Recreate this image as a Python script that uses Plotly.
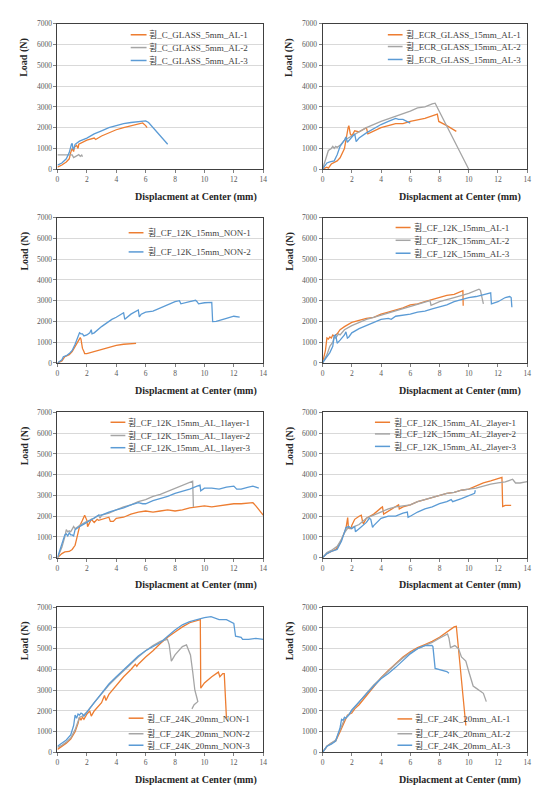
import plotly.graph_objects as go
from plotly.subplots import make_subplots

# ---------------- data ----------------
# Panel 1: C_GLASS 5mm AL
cg_names = ["휨_C_GLASS_5mm_AL-1", "휨_C_GLASS_5mm_AL-2", "휨_C_GLASS_5mm_AL-3"]
cg1_x = [0, 0.3, 0.6, 0.8, 0.9, 1.0, 1.1, 1.15, 1.3, 1.4, 1.45, 1.7, 2.0, 2.5, 2.6, 3.0, 3.5, 4.0, 4.5, 5.0, 5.5, 5.8, 6.0, 6.1]
cg1_y = [100, 200, 350, 500, 800, 1000, 850, 1050, 1150, 1000, 1200, 1300, 1400, 1500, 1430, 1600, 1750, 1900, 2000, 2100, 2200, 2230, 2100, 2000]
cg2_x = [0, 1.0, 1.1, 1.2, 1.35, 1.45, 1.55, 1.65, 1.7]
cg2_y = [690, 690, 560, 600, 650, 700, 620, 680, 600]
cg3_x = [0, 0.3, 0.6, 0.8, 0.95, 1.0, 1.05, 1.1, 1.2, 1.5, 2.0, 2.5, 3.0, 3.5, 4.0, 4.5, 5.0, 5.5, 6.0, 6.2, 7.5]
cg3_y = [200, 300, 500, 800, 1200, 1250, 1000, 950, 1200, 1350, 1500, 1700, 1850, 2000, 2100, 2200, 2250, 2300, 2330, 2250, 1200]

# Panel 2: ECR_GLASS 15mm AL
ecr_names = ["휨_ECR_GLASS_15mm_AL-1", "휨_ECR_GLASS_15mm_AL-2", "휨_ECR_GLASS_15mm_AL-3"]
ecr1_x = [0, 0.3, 0.4, 0.6, 1.0, 1.2, 1.5, 1.6, 1.75, 1.8, 1.9, 2.0, 2.2, 2.5, 3.0, 3.1, 3.5, 4.0, 4.5, 5.0, 5.5, 6.0, 7.0, 7.85, 7.95, 8.5, 9.15]
ecr1_y = [0, 100, 50, 250, 400, 550, 1000, 1500, 2000, 2100, 1700, 1600, 1850, 1800, 2000, 1700, 1850, 2000, 2100, 2200, 2200, 2300, 2450, 2650, 2300, 2100, 1820]
ecr2_x = [0, 0.2, 0.4, 0.6, 0.7, 0.8, 0.9, 1.0, 1.2, 1.5, 2.0, 2.5, 3.0, 4.0, 5.0, 5.5, 6.0, 6.5, 7.0, 7.5, 7.7, 10.0]
ecr2_y = [0, 400, 900, 1000, 1100, 1000, 1100, 1050, 1150, 1400, 1600, 1800, 2000, 2300, 2550, 2650, 2800, 2950, 3000, 3150, 3180, 0]
ecr3_x = [0, 0.3, 0.5, 0.8, 1.0, 1.2, 1.5, 1.6, 1.7, 1.9, 2.0, 2.2, 2.3, 2.5, 3.0, 3.5, 4.0, 4.5, 5.0, 5.2, 5.5, 6.0]
ecr3_y = [0, 300, 350, 400, 700, 1100, 1400, 1550, 1300, 1450, 1550, 1700, 1330, 1500, 1750, 1950, 2150, 2300, 2450, 2400, 2400, 2220]

# Panel 3: CF_12K 15mm NON
n12_names = ["휨_CF_12K_15mm_NON-1", "휨_CF_12K_15mm_NON-2"]
n12a_x = [0, 0.3, 0.5, 0.8, 1.0, 1.2, 1.4, 1.55, 1.6, 1.65, 1.7, 1.8, 1.85, 2.0, 2.5, 3.0, 3.5, 4.0, 4.5, 5.0, 5.35]
n12a_y = [0, 100, 300, 400, 550, 800, 1000, 1220, 1150, 800, 700, 550, 450, 450, 550, 650, 750, 850, 900, 930, 940]
n12b_x = [0, 0.3, 0.4, 0.6, 0.8, 1.0, 1.2, 1.4, 1.5, 1.6, 1.7, 1.8, 2.0, 2.2, 2.3, 2.35, 2.5, 3.0, 3.5, 3.7, 4.0, 4.5, 4.58, 5.0, 5.5, 5.57, 5.7, 6.0, 6.5, 7.0, 7.5, 8.0, 8.3, 8.4, 9.0, 9.4, 9.5, 9.6, 10.0, 10.5, 10.56, 10.8, 11.5, 12.0, 12.4]
n12b_y = [0, 150, 300, 350, 450, 600, 900, 1250, 1450, 1400, 1400, 1300, 1350, 1450, 1600, 1400, 1450, 1750, 2000, 2100, 2200, 2420, 2100, 2350, 2550, 2220, 2350, 2450, 2500, 2650, 2800, 2950, 3000, 2850, 2950, 3020, 2950, 2850, 2900, 2920, 1990, 2000, 2150, 2250, 2210]

# Panel 4: CF_12K 15mm AL
a12_names = ["휨_CF_12K_15mm_AL-1", "휨_CF_12K_15mm_AL-2", "휨_CF_12K_15mm_AL-3"]
a12a_x = [0, 0.2, 0.3, 0.4, 0.5, 0.6, 0.7, 0.8, 1.0, 1.2, 1.5, 2.0, 2.5, 3.0, 3.5, 4.0, 4.5, 5.0, 5.5, 6.0, 6.5, 7.0, 7.5, 8.0, 8.5, 9.0, 9.5, 9.6, 9.62]
a12a_y = [0, 600, 1200, 1150, 1250, 1200, 1350, 1300, 1400, 1600, 1750, 1950, 2050, 2150, 2200, 2350, 2450, 2550, 2650, 2800, 2850, 2950, 3050, 3150, 3250, 3300, 3450, 3480, 2750]
a12b_x = [0, 0.3, 0.5, 0.7, 0.8, 0.9, 1.0, 1.1, 1.2, 1.5, 2.0, 2.5, 3.0, 3.5, 4.0, 5.0, 6.0, 7.0, 7.35, 7.42, 8.0, 9.0, 10.0, 10.7, 10.8, 11.0]
a12b_y = [0, 400, 800, 1000, 1250, 1200, 1300, 1400, 1350, 1600, 1800, 1950, 2100, 2200, 2300, 2500, 2700, 2900, 3000, 2780, 2950, 3150, 3350, 3550, 3500, 2850]
a12c_x = [0, 0.3, 0.5, 0.7, 0.8, 0.9, 1.0, 1.2, 1.5, 1.6, 1.7, 1.8, 2.0, 2.5, 3.0, 3.5, 4.0, 4.5, 4.7, 5.0, 5.5, 6.0, 6.5, 7.0, 7.5, 8.0, 8.5, 9.0, 9.5, 10.0, 10.5, 11.0, 11.5, 11.55, 12.0, 12.5, 12.8, 12.9, 12.95]
a12c_y = [0, 300, 500, 800, 1300, 1350, 950, 1100, 1350, 1500, 1200, 1250, 1450, 1650, 1800, 1950, 2100, 2150, 2100, 2250, 2300, 2350, 2450, 2500, 2600, 2700, 2800, 2950, 3050, 3150, 3200, 3300, 3380, 2850, 2950, 3150, 3200, 3150, 2680]

# Panel 5: CF_12K 15mm AL 1layer
l1_names = ["휨_CF_12K_15mm_AL_1layer-1", "휨_CF_12K_15mm_AL_1layer-2", "휨_CF_12K_15mm_AL_1layer-3"]
l1a_x = [0, 0.3, 0.5, 0.8, 1.0, 1.2, 1.3, 1.4, 1.5, 1.7, 1.8, 1.85, 2.0, 2.05, 2.2, 2.3, 2.5, 2.7, 2.8, 3.0, 3.3, 3.5, 3.6, 3.8, 4.0, 4.5, 5.0, 5.5, 6.0, 6.5, 7.0, 7.5, 8.0, 8.5, 9.0, 9.5, 10.0, 10.5, 11.0, 11.5, 12.0, 12.5, 13.0, 13.3, 13.5, 13.8, 14.0]
l1a_y = [0, 200, 280, 300, 400, 600, 900, 1200, 1500, 1800, 2000, 2050, 1800, 1500, 1700, 1850, 1700, 1850, 1800, 1850, 1900, 1950, 1750, 1750, 1900, 1950, 2100, 2200, 2250, 2200, 2250, 2300, 2250, 2300, 2400, 2450, 2500, 2450, 2500, 2550, 2600, 2600, 2650, 2650, 2500, 2250, 2050]
l1b_x = [0, 0.3, 0.5, 0.6, 0.7, 0.8, 0.9, 1.0, 1.1, 1.2, 1.5, 2.0, 2.5, 2.8, 2.9, 3.0, 3.5, 4.0, 4.5, 5.0, 5.5, 6.0, 6.5, 7.0, 7.5, 8.0, 8.5, 9.0, 9.2, 9.25]
l1b_y = [0, 500, 1000, 1350, 1250, 1300, 1250, 1350, 1500, 1400, 1550, 1750, 1900, 2050, 1900, 2050, 2150, 2300, 2450, 2550, 2700, 2800, 2950, 3050, 3200, 3350, 3500, 3650, 3690, 2450]
l1c_x = [0, 0.3, 0.5, 0.6, 0.7, 0.8, 0.9, 1.0, 1.1, 1.2, 1.5, 2.0, 2.5, 2.8, 3.0, 3.5, 4.0, 4.5, 5.0, 5.5, 5.8, 6.0, 6.5, 7.0, 7.5, 8.0, 8.5, 9.0, 9.5, 9.7, 9.75, 10.0, 10.5, 11.0, 11.5, 12.0, 12.2, 12.5, 13.0, 13.3, 13.5, 13.7]
l1c_y = [0, 600, 1100, 1150, 1050, 1200, 1100, 1100, 1050, 1350, 1500, 1700, 1900, 2050, 2050, 2200, 2300, 2400, 2550, 2650, 2600, 2600, 2750, 2850, 2950, 3100, 3200, 3300, 3450, 3500, 3220, 3350, 3350, 3300, 3400, 3450, 3300, 3300, 3400, 3450, 3400, 3350]

# Panel 6: CF_12K 15mm AL 2layer
l2_names = ["휨_CF_12K_15mm_AL_2layer-1", "휨_CF_12K_15mm_AL_2layer-2", "휨_CF_12K_15mm_AL_2layer-3"]
l2a_x = [0, 0.3, 0.6, 0.9, 1.2, 1.5, 1.6, 1.72, 1.77, 1.85, 1.95, 2.0, 2.2, 2.5, 2.65, 2.75, 2.8, 3.0, 3.5, 4.0, 4.1, 4.18, 4.5, 5.0, 5.2, 5.25, 5.5, 6.0, 6.5, 7.0, 7.5, 8.0, 8.5, 9.0, 9.5, 10.0, 10.5, 11.0, 11.5, 12.0, 12.27, 12.32, 12.5, 12.9]
l2a_y = [0, 200, 300, 400, 700, 1200, 1400, 1930, 1450, 1400, 1400, 1550, 1850, 2000, 2050, 1700, 1650, 1900, 2100, 2400, 2450, 2100, 2250, 2450, 2550, 2350, 2450, 2550, 2700, 2800, 2900, 3000, 3100, 3150, 3250, 3300, 3450, 3600, 3700, 3800, 3870, 2470, 2520, 2520]
l2b_x = [0, 0.3, 0.6, 1.0, 1.3, 1.5, 1.7, 2.0, 2.5, 3.0, 3.5, 4.0, 4.5, 5.0, 5.5, 6.0, 6.5, 7.0, 7.5, 8.0, 8.5, 9.0, 9.5, 10.0, 10.5, 11.0, 11.5, 12.0, 12.5, 13.0, 13.2, 13.5, 14.0]
l2b_y = [0, 250, 350, 550, 900, 1200, 1400, 1450, 1600, 1900, 2050, 2200, 2350, 2450, 2500, 2550, 2700, 2800, 2900, 3000, 3100, 3150, 3250, 3300, 3350, 3450, 3550, 3600, 3650, 3780, 3600, 3600, 3670]
l2c_x = [0, 0.3, 0.6, 1.0, 1.3, 1.5, 1.6, 1.8, 2.0, 2.2, 2.25, 2.5, 3.0, 3.2, 3.3, 3.42, 3.5, 4.0, 4.5, 5.0, 5.5, 5.8, 5.85, 6.0, 6.5, 7.0, 7.5, 8.0, 8.5, 8.8, 8.9, 9.5, 10.0, 10.4, 10.45]
l2c_y = [0, 200, 300, 400, 800, 1300, 1450, 1500, 1400, 1500, 1250, 1400, 1700, 1900, 1850, 1460, 1550, 1900, 2000, 2000, 2150, 2200, 1950, 2000, 2200, 2350, 2450, 2600, 2700, 2800, 2700, 2850, 3000, 3100, 3250]

# Panel 7: CF_24K 20mm NON
n24_names = ["휨_CF_24K_20mm_NON-1", "휨_CF_24K_20mm_NON-2", "휨_CF_24K_20mm_NON-3"]
n24a_x = [0, 0.3, 0.6, 0.9, 1.2, 1.4, 1.5, 1.6, 1.7, 1.8, 2.0, 2.2, 2.3, 2.5, 3.0, 3.2, 3.3, 3.5, 4.0, 4.5, 5.0, 5.3, 5.4, 5.5, 6.0, 6.5, 7.0, 7.5, 8.0, 8.5, 9.0, 9.5, 9.72, 9.75, 10.0, 10.5, 10.95, 11.05, 11.25, 11.35, 11.5]
n24a_y = [150, 300, 450, 650, 1000, 1400, 1700, 1550, 1700, 1600, 1850, 2000, 1750, 2000, 2400, 2750, 2500, 2800, 3250, 3650, 4000, 4250, 4150, 4250, 4600, 4900, 5250, 5550, 5800, 6050, 6250, 6350, 6400, 3100, 3350, 3650, 3870, 3650, 3800, 3800, 1650]
n24b_x = [0, 0.3, 0.6, 0.9, 1.2, 1.4, 1.5, 1.7, 2.0, 2.5, 3.0, 3.5, 4.0, 4.5, 5.0, 5.5, 6.0, 6.5, 7.0, 7.48, 7.6, 7.75, 8.0, 8.5, 8.78, 9.05, 9.2, 9.35, 9.5, 9.55, 9.3, 9.15]
n24b_y = [250, 350, 500, 700, 1100, 1500, 1700, 1750, 1950, 2400, 2850, 3250, 3600, 3950, 4300, 4600, 4900, 5150, 5350, 5450, 5200, 4400, 4700, 5100, 5180, 4700, 3900, 3000, 2600, 2450, 2300, 2100]
n24c_x = [0, 0.3, 0.6, 0.9, 1.1, 1.2, 1.3, 1.4, 1.5, 1.6, 1.7, 1.8, 2.0, 2.5, 3.0, 3.5, 4.0, 4.5, 5.0, 5.5, 6.0, 6.5, 7.0, 7.5, 8.0, 8.5, 9.0, 9.5, 10.0, 10.45, 11.0, 11.5, 11.7, 12.0, 12.12, 12.5, 12.6, 13.0, 13.5, 14.0]
n24c_y = [300, 450, 600, 850, 1300, 1800, 1650, 1850, 1800, 1900, 1850, 1750, 1950, 2400, 2850, 3300, 3650, 4000, 4350, 4650, 4900, 5100, 5300, 5600, 5900, 6150, 6300, 6400, 6500, 6540, 6400, 6400, 6340, 6220, 5600, 5550, 5450, 5450, 5500, 5450]

# Panel 8: CF_24K 20mm AL
a24_names = ["휨_CF_24K_20mm_AL-1", "휨_CF_24K_20mm_AL-2", "휨_CF_24K_20mm_AL-3"]
a24a_x = [0, 0.3, 0.6, 0.9, 1.2, 1.5, 1.7, 2.0, 2.2, 2.5, 3.0, 3.5, 4.0, 4.5, 5.0, 5.5, 6.0, 6.5, 7.0, 7.5, 8.0, 8.5, 9.0, 9.15, 9.8]
a24a_y = [0, 300, 450, 550, 1000, 1500, 1800, 1900, 2100, 2300, 2750, 3200, 3600, 3950, 4300, 4600, 4850, 5050, 5200, 5350, 5550, 5800, 6050, 6080, 1300]
a24b_x = [0, 0.3, 0.6, 0.9, 1.2, 1.5, 2.0, 2.5, 3.0, 3.5, 4.0, 4.5, 5.0, 5.5, 6.0, 6.5, 7.0, 7.5, 8.0, 8.55, 8.65, 8.75, 9.05, 9.3, 9.5, 9.8, 10.0, 10.3, 10.5, 11.0, 11.2]
a24b_y = [0, 300, 450, 600, 1100, 1600, 2000, 2450, 2850, 3250, 3600, 3900, 4250, 4550, 4800, 5000, 5150, 5300, 5500, 5710, 5500, 5050, 5150, 5000, 4600, 4400, 3900, 3200, 3100, 2850, 2450]
a24c_x = [0, 0.3, 0.6, 0.9, 1.2, 1.3, 1.4, 1.5, 1.6, 1.8, 2.0, 2.5, 3.0, 3.5, 4.0, 4.5, 5.0, 5.5, 6.0, 6.5, 7.0, 7.48, 7.55, 7.7, 8.0, 8.3, 8.5, 8.65]
a24c_y = [0, 300, 400, 550, 1200, 1600, 1550, 1700, 1650, 1800, 2050, 2450, 2850, 3200, 3550, 3800, 4100, 4450, 4750, 5000, 5150, 5160, 5100, 4050, 4000, 3950, 3900, 3820]

x_ticks = [0, 2, 4, 6, 8, 10, 12, 14]
y_ticks = [0, 1000, 2000, 3000, 4000, 5000, 6000, 7000]
x_title = "Displacment at Center (mm)"
y_title = "Load (N)"

COLORS = ["#ED7D31", "#A5A5A5", "#5B9BD5"]
FONT = "Liberation Serif, Times New Roman, Noto Sans CJK KR, serif"

panels = [
    dict(names=cg_names, series=[(cg1_x, cg1_y), (cg2_x, cg2_y), (cg3_x, cg3_y)],
         leg=(0.356, 0.433, 0.4375, [0.925, 0.837, 0.748])),
    dict(names=ecr_names, series=[(ecr1_x, ecr1_y), (ecr2_x, ecr2_y), (ecr3_x, ecr3_y)],
         leg=(0.319, 0.391, 0.396, [0.925, 0.844, 0.755])),
    dict(names=n12_names, series=[(n12a_x, n12a_y), (n12b_x, n12b_y)],
         leg=(0.346, 0.418, 0.428, [0.896, 0.764]), colors=[COLORS[0], COLORS[2]]),
    dict(names=a12_names, series=[(a12a_x, a12a_y), (a12b_x, a12b_y), (a12c_x, a12c_y)],
         leg=(0.357, 0.43, 0.435, [0.932, 0.844, 0.755])),
    dict(names=l1_names, series=[(l1a_x, l1a_y), (l1b_x, l1b_y), (l1c_x, l1c_y)],
         leg=(0.258, 0.33, 0.335, [0.932, 0.841, 0.757])),
    dict(names=l2_names, series=[(l2a_x, l2a_y), (l2b_x, l2b_y), (l2c_x, l2c_y)],
         leg=(0.256, 0.33, 0.338, [0.932, 0.852, 0.766])),
    dict(names=n24_names, series=[(n24a_x, n24a_y), (n24b_x, n24b_y), (n24c_x, n24c_y)],
         leg=(0.346, 0.418, 0.427, [0.236, 0.129, 0.05])),
    dict(names=a24_names, series=[(a24a_x, a24a_y), (a24b_x, a24b_y), (a24c_x, a24c_y)],
         leg=(0.366, 0.438, 0.441, [0.231, 0.129, 0.05])),
]

col_dom = [[0.0884, 0.4715], [0.582, 0.9632]]
row_dom = [[0.8, 0.9849], [0.5535, 0.7384], [0.3057, 0.4906], [0.0579, 0.2428]]

fig = make_subplots(rows=4, cols=2)
shapes = []
annotations = []

for i, p in enumerate(panels):
    r, c = i // 2, i % 2
    cols = p.get("colors", COLORS)
    for (xs, ys), nm, col in zip(p["series"], p["names"], cols):
        fig.add_trace(go.Scatter(x=xs, y=ys, mode="lines", name=nm, showlegend=False,
                                 line=dict(color=col, width=1.3)), row=r + 1, col=c + 1)
    sfx = "" if i == 0 else str(i + 1)
    fig.layout["xaxis" + sfx].update(domain=col_dom[c])
    fig.layout["yaxis" + sfx].update(domain=row_dom[r])
    xd, yd = "x" + sfx + " domain", "y" + sfx + " domain"
    lx0, lx1, tx, ys_ = p["leg"]
    for nm, col, yy in zip(p["names"], cols, ys_):
        shapes.append(dict(type="line", xref=xd, yref=yd, x0=lx0, x1=lx1, y0=yy, y1=yy,
                           line=dict(color=col, width=1.5)))
        annotations.append(dict(xref=xd, yref=yd, x=tx, y=yy, text=nm, showarrow=False,
                                xanchor="left", yanchor="middle",
                                font=dict(family=FONT, size=9, color="#404040")))
    annotations.append(dict(xref=xd, yref=yd, x=0.98, y=-0.19, text=x_title, showarrow=False,
                            xanchor="right", yanchor="middle",
                            font=dict(family=FONT, size=10, color="#262626", weight="bold")))
    annotations.append(dict(xref=xd, yref=yd, x=-0.16, y=0.77, text=y_title, showarrow=False,
                            xanchor="center", yanchor="middle", textangle=-90,
                            font=dict(family=FONT, size=10, color="#262626", weight="bold")))

fig.update_xaxes(range=[0, 14], tickvals=x_ticks, showgrid=False, zeroline=False,
                 showline=True, mirror=True, linecolor="#404040", linewidth=1,
                 ticks="outside", ticklen=3, tickcolor="#808080",
                 tickfont=dict(family=FONT, size=7.5, color="#595959"))
fig.update_yaxes(range=[0, 7000], tickvals=y_ticks, showgrid=True, gridcolor="#D9D9D9",
                 gridwidth=1, zeroline=False,
                 showline=True, mirror=True, linecolor="#404040", linewidth=1,
                 ticks="outside", ticklen=3, tickcolor="#808080",
                 tickfont=dict(family=FONT, size=7.5, color="#595959"))

fig.update_layout(width=543, height=795, margin=dict(l=0, r=0, t=0, b=0),
                  paper_bgcolor="white", plot_bgcolor="white", showlegend=False,
                  shapes=shapes, annotations=annotations)

fig.write_html("out.html")
